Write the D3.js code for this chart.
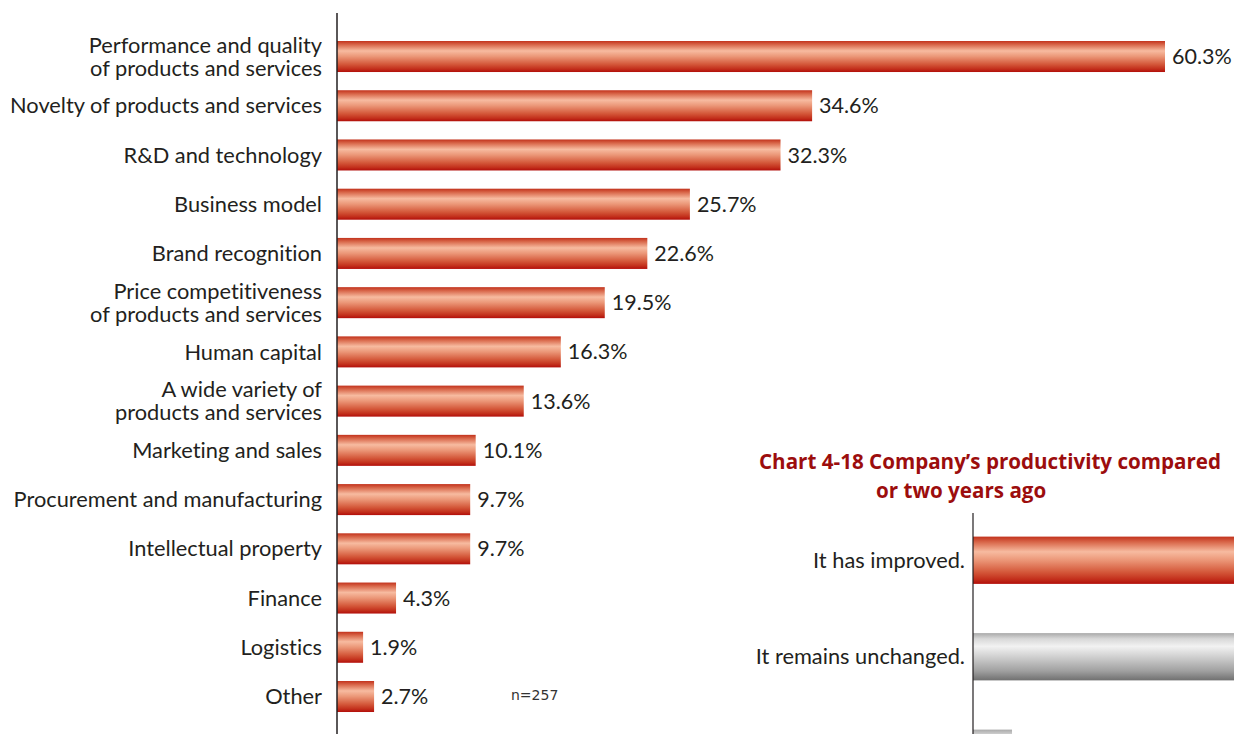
<!DOCTYPE html>
<html>
<head>
<meta charset="utf-8">
<script src="https://cdn.jsdelivr.net/npm/d3@7"></script>
<style>
  html, body { margin: 0; padding: 0; background: #fff; }
  svg { display: block; }
</style>
</head>
<body>
<svg id="chart" width="1234" height="734"></svg>
<script>
// Chart 4-17: strengths of the company (share of respondents, %)
const categories = [
  "Performance and quality\nof products and services",
  "Novelty of products and services",
  "R&D and technology",
  "Business model",
  "Brand recognition",
  "Price competitiveness\nof products and services",
  "Human capital",
  "A wide variety of\nproducts and services",
  "Marketing and sales",
  "Procurement and manufacturing",
  "Intellectual property",
  "Finance",
  "Logistics",
  "Other"
];
const values = [60.3, 34.6, 32.3, 25.7, 22.6, 19.5, 16.3, 13.6, 10.1, 9.7, 9.7, 4.3, 1.9, 2.7];
const sampleNote = "n=257";

// Chart 4-18: productivity compared with one or two years ago (%)
const title2 = ["Chart 4-18 Company\u2019s productivity compared", "or two years ago"];
const categories2 = ["It has improved.", "It remains unchanged.", "It has declined."];
const values2 = [50.2, 45.1, 4.7];
const colors2 = ["red", "gray", "gray"];

const W = 1234, H = 734;
const svg = d3.select("#chart");
const defs = svg.append("defs");

const redGrad = defs.append("linearGradient")
  .attr("id", "grad-red").attr("x1", 0).attr("y1", 0).attr("x2", 0).attr("y2", 1);
[[0, "#c2321c"], [0.12, "#d9684b"], [0.32, "#f7bba0"], [0.5, "#eb9677"],
 [0.75, "#d4583a"], [0.9, "#c3301c"], [1, "#b20e0a"]]
  .forEach(([o, c]) => redGrad.append("stop").attr("offset", o).attr("stop-color", c));

const grayGrad = defs.append("linearGradient")
  .attr("id", "grad-gray").attr("x1", 0).attr("y1", 0).attr("x2", 0).attr("y2", 1);
[[0, "#a9a9a9"], [0.12, "#d8d8d8"], [0.28, "#f2f2f2"], [0.5, "#d0d0d0"],
 [0.8, "#a0a0a0"], [1, "#707070"]]
  .forEach(([o, c]) => grayGrad.append("stop").attr("offset", o).attr("stop-color", c));

const textColor = "#231f20";
const labelFont = "Lato, 'Open Sans', sans-serif";

// ---------- Chart 4-17 ----------
const x = d3.scaleLinear().domain([0, 60.3]).range([337, 1165]);
const y = d3.scaleBand().domain(categories).range([31.9, 31.9 + 14 * 49.23])
  .paddingInner(0.37).paddingOuter(0.185);

const g1 = svg.append("g");

g1.selectAll("rect.bar").data(categories).join("rect")
  .attr("class", "bar")
  .attr("x", x(0))
  .attr("y", d => y(d))
  .attr("width", (d, i) => x(values[i]) - x(0))
  .attr("height", y.bandwidth())
  .attr("fill", "url(#grad-red)");

g1.append("line")
  .attr("x1", x(0)).attr("x2", x(0))
  .attr("y1", 13).attr("y2", H)
  .attr("stroke", textColor).attr("stroke-width", 1.5);

// category labels (multi-line where needed)
const catLabels = g1.selectAll("text.cat").data(categories).join("text")
  .attr("class", "cat")
  .attr("x", x(0) - 15)
  .attr("text-anchor", "end")
  .attr("font-family", labelFont)
  .attr("font-size", 21.8)
  .style("font-variant-ligatures", "none")
  .attr("fill", textColor);
catLabels.each(function(d) {
  const lines = d.split("\n");
  const cy = y(d) + y.bandwidth() / 2;
  const lh = 23;
  const t = d3.select(this);
  lines.forEach((ln, k) => {
    t.append("tspan")
      .attr("x", x(0) - 15)
      .attr("y", cy + (k - (lines.length - 1) / 2) * lh)
      .attr("dy", "0.35em")
      .text(ln);
  });
});

// value labels
g1.selectAll("text.val").data(categories).join("text")
  .attr("class", "val")
  .attr("x", (d, i) => x(values[i]) + 7)
  .attr("y", d => y(d) + y.bandwidth() / 2)
  .attr("dy", "0.35em")
  .attr("font-family", labelFont)
  .attr("font-size", 21.5)
  .attr("fill", textColor)
  .text((d, i) => d3.format(".1f")(values[i]) + "%");

g1.append("text")
  .attr("x", 511).attr("y", 700)
  .attr("font-family", "'DejaVu Sans', sans-serif")
  .attr("font-size", 14)
  .attr("fill", "#333")
  .text(sampleNote);

// ---------- Chart 4-18 ----------
const g2 = svg.append("g");
const titleText = g2.append("text")
  .attr("font-family", "'Open Sans', sans-serif")
  .attr("font-weight", 700)
  .attr("font-size", 20.6)
  .attr("fill", "#9c0d0d");
titleText.append("tspan").attr("x", 759).attr("y", 469).text(title2[0]);
titleText.append("tspan").attr("x", 876).attr("y", 498).text(title2[1]);

const x2 = d3.scaleLinear().domain([0, 100]).range([973, 973 + 830]);
const y2 = d3.scaleBand().domain(categories2).range([512, 512 + 3 * 96.5])
  .paddingInner(0.51).paddingOuter(0.255);

g2.selectAll("rect.bar2").data(categories2).join("rect")
  .attr("class", "bar2")
  .attr("x", x2(0))
  .attr("y", d => y2(d))
  .attr("width", (d, i) => x2(values2[i]) - x2(0))
  .attr("height", y2.bandwidth())
  .attr("fill", (d, i) => colors2[i] === "red" ? "url(#grad-red)" : "url(#grad-gray)");

g2.append("line")
  .attr("x1", x2(0)).attr("x2", x2(0))
  .attr("y1", 513).attr("y2", H)
  .attr("stroke", textColor).attr("stroke-width", 1.2);

// only rows whose label falls inside the drawing area get a label
g2.selectAll("text.cat2")
  .data(categories2.filter(d => y2(d) + y2.bandwidth() / 2 + 12 < H))
  .join("text")
  .attr("class", "cat2")
  .attr("x", x2(0) - 8)
  .attr("y", d => y2(d) + y2.bandwidth() / 2)
  .attr("dy", "0.35em")
  .attr("text-anchor", "end")
  .attr("font-family", labelFont)
  .attr("font-size", 21.8)
  .attr("fill", textColor)
  .text(d => d);
</script>
</body>
</html>
